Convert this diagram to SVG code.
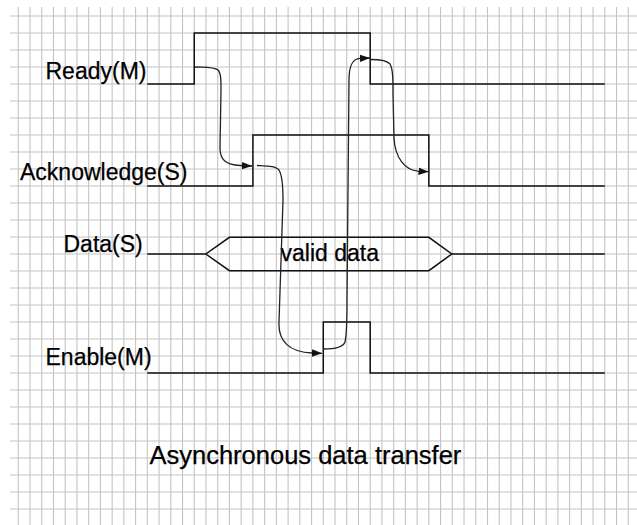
<svg xmlns="http://www.w3.org/2000/svg" width="637" height="525" viewBox="0 0 637 525">
  <defs>
    <style>
      .grid { stroke: #c4c4c4; stroke-width: 1.1; fill: none; }
      .sig { stroke: #111; stroke-width: 1.5; fill: none; }
      .conn { stroke: #222; stroke-width: 1.3; fill: none; marker-end: url(#ah); }
      .lbl { font-family: "Liberation Sans", Arial, sans-serif; font-size: 23px; fill: #000; stroke: #000; stroke-width: 0.25; }
      .title { font-family: "Liberation Sans", Arial, sans-serif; font-size: 25.5px; fill: #000; stroke: #000; stroke-width: 0.25; }
    </style>
    <marker id="ah" markerWidth="11" markerHeight="9" refX="10" refY="4.5" orient="auto" markerUnits="userSpaceOnUse">
      <path d="M0,0.8 L10,4.5 L0,8.2 Z" fill="#111"/>
    </marker>
  </defs>
  <rect x="0" y="0" width="637" height="525" fill="#fff"/>
  <g id="grid" class="grid">
    <path d="M18.3 7V525M30.03 7V525M41.76 7V525M53.49 7V525M65.22 7V525M76.95 7V525M88.68 7V525M100.41 7V525M112.14 7V525M123.87 7V525M135.6 7V525M147.33 7V525M159.06 7V525M170.79 7V525M182.52 7V525M194.25 7V525M205.98 7V525M217.71 7V525M229.44 7V525M241.17 7V525M252.9 7V525M264.63 7V525M276.36 7V525M288.09 7V525M299.82 7V525M311.55 7V525M323.28 7V525M335.01 7V525M346.74 7V525M358.47 7V525M370.2 7V525M381.93 7V525M393.66 7V525M405.39 7V525M417.12 7V525M428.85 7V525M440.58 7V525M452.31 7V525M464.04 7V525M475.77 7V525M487.5 7V525M499.23 7V525M510.96 7V525M522.69 7V525M534.42 7V525M546.15 7V525M557.88 7V525M569.61 7V525M581.34 7V525M593.07 7V525M604.8 7V525M616.53 7V525M628.26 7V525"/>
    <path d="M10 16H637M10 33H637M10 50H637M10 67H637M10 84H637M10 101H637M10 118H637M10 135H637M10 152H637M10 169H637M10 186H637M10 203H637M10 220H637M10 237H637M10 254H637M10 271H637M10 288H637M10 305H637M10 322H637M10 339H637M10 356H637M10 373H637M10 390H637M10 407H637M10 424H637M10 441H637M10 458H637M10 475H637M10 492H637M10 509H637"/>
  </g>
  <g id="ready">
    <path class="sig" d="M147.33,84 H194.25 V33 H370.2 V84 H604.8"/>
    <text class="lbl" x="45.5" y="79">Ready(M)</text>
  </g>
  <g id="acknowledge">
    <path class="sig" d="M147.33,186 H252.9 V135 H428.85 V186 H604.8"/>
    <text class="lbl" x="20" y="179.5">Acknowledge(S)</text>
  </g>
  <g id="data">
    <path class="sig" d="M147.33,254 H205.7 L229.44,237.3 H428.85 L451.8,254 L428.85,270.7 H229.44 L205.7,254 M451.8,254 H604.8"/>
    <text class="lbl" x="63.5" y="251.5">Data(S)</text>
    <text class="lbl" x="280.5" y="260.5">valid data</text>
  </g>
  <g id="enable">
    <path class="sig" d="M147.33,373 H323.28 V322 H370.2 V373 H604.8"/>
    <text class="lbl" x="45.5" y="365">Enable(M)</text>
  </g>
  <g id="connectors">
    <path class="conn" d="M195,67 C206,67.5 214,67 218,70 C221,73 221,80 221,90 L220,148 C220,160 226,165 240,165.5 L252,166"/>
    <path class="conn" d="M257,165.5 C268,166 276,166 279,170 C282,175 283,185 283,200 L279,322 C278,342 290,352 312,353 L322,353.3"/>
    <path class="conn" d="M323.5,349 C334,349 343,348 345,342 C346.5,336 347,320 347,300 L349,80 C349,66 352,59 360,58.3 L370,58"/>
    <path class="conn" d="M370.5,59.5 C380,59.5 387,60 390,64 C393,69 393,80 393,95 L394,138 C395,158 405,170 418,171.2 L428.5,171.7"/>
  </g>
  <g id="caption">
    <text class="title" x="149.5" y="463.5">Asynchronous data transfer</text>
  </g>
</svg>
